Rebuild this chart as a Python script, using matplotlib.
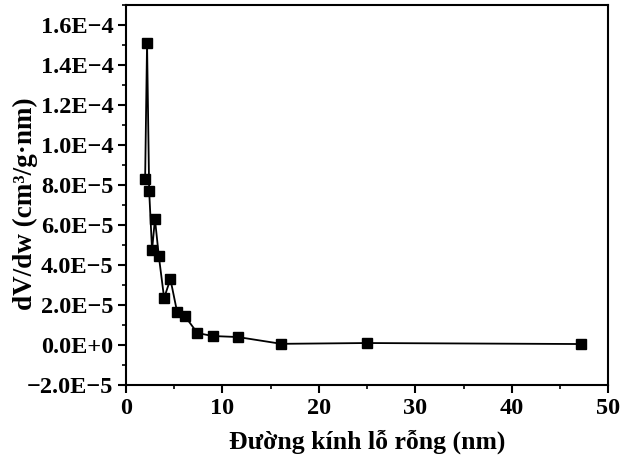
import matplotlib
matplotlib.use("Agg")
import matplotlib.pyplot as plt
from matplotlib.ticker import MultipleLocator, FuncFormatter
import numpy as np

pore_width_nm = [1.98, 2.18, 2.40, 2.70, 3.00, 3.40, 3.95, 4.60, 5.30, 6.10, 7.40, 9.00, 11.6, 16.1, 25.0, 47.2]
dv_dw = [8.3e-5, 1.51e-4, 7.7e-5, 4.75e-5, 6.3e-5, 4.45e-5, 2.35e-5, 3.3e-5, 1.65e-5, 1.45e-5,
         6.0e-6, 4.5e-6, 4.0e-6, 0.6e-6, 1.0e-6, 0.5e-6]

plt.rcParams['font.family'] = ['Liberation Serif', 'DejaVu Serif']
plt.rcParams['font.weight'] = 'bold'

fig = plt.figure(figsize=(6.27, 4.65), dpi=100)
ax = fig.add_axes([0.201, 0.172, 0.769, 0.817])

ax.plot(pore_width_nm, dv_dw, color='black', linewidth=1.3, marker='s', markersize=7,
        markerfacecolor='black', markeredgecolor='black')

ax.set_xlim(0, 50)
ax.set_ylim(-2e-5, 1.7e-4)
ax.xaxis.set_major_locator(MultipleLocator(10))
ax.xaxis.set_minor_locator(MultipleLocator(5))
ax.yaxis.set_major_locator(MultipleLocator(2e-5))
ax.yaxis.set_minor_locator(MultipleLocator(1e-5))

def fmt(v, pos):
    if abs(v) < 1e-12:
        return "0.0E+0"
    exp = int(np.floor(np.log10(abs(v))))
    mant = v / 10**exp
    s = f"{mant:.1f}E{exp}"
    return s.replace("-", "\u2212")

ax.yaxis.set_major_formatter(FuncFormatter(fmt))

for sp in ax.spines.values():
    sp.set_linewidth(1.5)
ax.tick_params(which='major', direction='out', length=6, width=1.5, labelsize=17.5, pad=3)
ax.tick_params(which='minor', direction='out', length=3, width=1.2)
for lab in ax.get_xticklabels() + ax.get_yticklabels():
    lab.set_fontweight('bold')

ax.set_xlabel("Đường kính lỗ rỗng (nm)", fontsize=18.5, fontweight='bold', labelpad=8)
ax.set_ylabel("dV/dw (cm³/g·nm)", fontsize=19.5, fontweight='bold', labelpad=-8)
ax.yaxis.label.set_y(0.476)

fig.savefig("out.png", dpi=100)
